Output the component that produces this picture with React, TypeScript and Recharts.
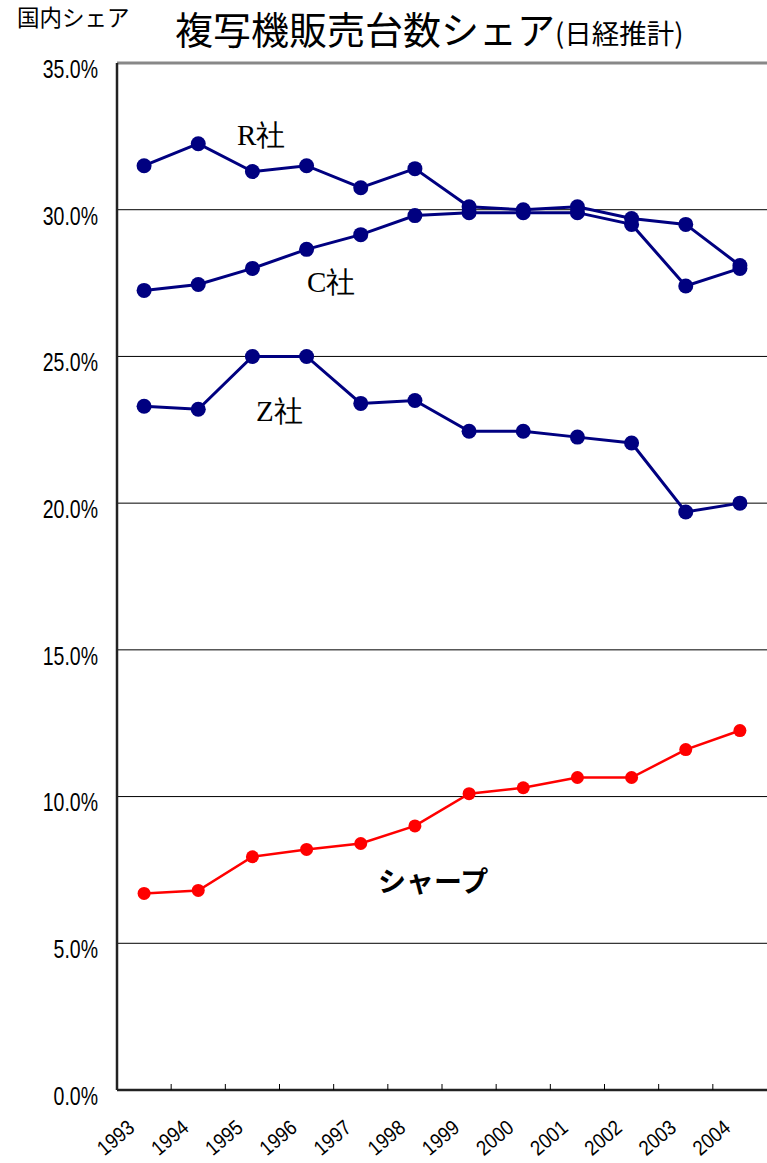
import * as React from 'react';
import { LineChart, Line, XAxis, YAxis, CartesianGrid, ReferenceLine } from 'recharts';

const years = [1993, 1994, 1995, 1996, 1997, 1998, 1999, 2000, 2001, 2002, 2003, 2004];
const rShare = [31.5, 32.25, 31.3, 31.5, 30.75, 31.4, 30.1, 30.0, 30.1, 29.7, 29.5, 28.1];
const cShare = [27.25, 27.45, 28.0, 28.65, 29.15, 29.8, 29.9, 29.9, 29.9, 29.5, 27.4, 28.0];
const zShare = [23.3, 23.2, 25.0, 25.0, 23.4, 23.5, 22.45, 22.45, 22.25, 22.05, 19.7, 20.0];
const sharpShare = [6.7, 6.8, 7.95, 8.2, 8.4, 9.0, 10.1, 10.3, 10.65, 10.65, 11.6, 12.25];
const yTicks = [0, 5, 10, 15, 20, 25, 30, 35];

// points sit mid-year, labels sit on the year boundaries
const data = years.map((yr, i) => ({
  x: yr + 0.5,
  r: rShare[i],
  c: cShare[i],
  z: zShare[i],
  sharp: sharpShare[i],
}));

const NAVY = '#000080';
const labelFont = "'Liberation Sans', Arial, sans-serif";
const jpFont = "'Noto Sans CJK JP', sans-serif";
const serifFont = "'Liberation Serif', 'DejaVu Serif', serif";

const YearTick = (props: any) => {
  const { x, y, payload } = props;
  const tx = x + 19;
  const ty = y + 40;
  return (
    <g>
      {payload.value !== 1993 && <line x1={x} y1={y} x2={x} y2={y - 6} stroke="#000" strokeWidth={1} />}
      <text
        transform={`translate(${tx}, ${ty}) rotate(-40) scale(0.88, 1)`}
        textAnchor="end"
        fontSize={21}
        fontFamily={labelFont}
        fill="#000"
      >
        {payload.value}
      </text>
    </g>
  );
};

const PctTick = (props: any) => {
  const { x, y, payload } = props;
  return (
    <text
      transform={`translate(${x - 19}, ${y + 6}) scale(0.78, 1)`}
      textAnchor="end"
      dy="0.355em"
      fontSize={25}
      fontFamily={labelFont}
      fill="#000"
    >
      {payload.value.toFixed(1) + '%'}
    </text>
  );
};

const navyDot = { r: 7.5, fill: NAVY, stroke: NAVY, strokeWidth: 0 };
const redDot = { r: 6.5, fill: '#ff0000', stroke: '#ff0000', strokeWidth: 0 };

export default function App() {
  return (
    <div style={{ position: 'absolute', left: 0, top: 0, width: 767, height: 1163, background: '#fff' }}>
      <LineChart width={767} height={1163} data={data} margin={{ top: 63, right: 0, bottom: 0, left: 0 }}>
        <CartesianGrid horizontal vertical={false} stroke="#000" strokeWidth={1} />
        <ReferenceLine y={35} stroke="#888" strokeWidth={3} />
        <XAxis
          type="number"
          dataKey="x"
          domain={[1993, 2005]}
          ticks={years}
          height={73}
          tickSize={0}
          tickMargin={0}
          tickLine={false}
          tick={<YearTick />}
          axisLine={{ stroke: '#222', strokeWidth: 2.5 }}
          interval={0}
        />
        <YAxis
          type="number"
          domain={[0, 35]}
          ticks={yTicks}
          width={117}
          tickLine={false}
          tickSize={0}
          tickMargin={0}
          tick={<PctTick />}
          axisLine={{ stroke: '#222', strokeWidth: 2.5 }}
        />
        <Line dataKey="r" stroke={NAVY} strokeWidth={3} dot={navyDot} isAnimationActive={false} />
        <Line dataKey="c" stroke={NAVY} strokeWidth={3} dot={navyDot} isAnimationActive={false} />
        <Line dataKey="z" stroke={NAVY} strokeWidth={3} dot={navyDot} isAnimationActive={false} />
        <Line dataKey="sharp" stroke="#ff0000" strokeWidth={2.5} dot={redDot} isAnimationActive={false} />
      </LineChart>

      <div style={{ position: 'absolute', left: 17, top: 0, fontSize: 22.5, fontFamily: jpFont, color: '#000', whiteSpace: 'nowrap' }}>
        国内シェア
      </div>
      <div style={{ position: 'absolute', left: 175, top: 0, fontFamily: jpFont, color: '#000', whiteSpace: 'nowrap' }}>
        <span style={{ fontSize: 38 }}>複写機販売台数シェア</span>
        <span style={{ fontSize: 27.5 }}>(日経推計)</span>
      </div>
      <div style={{ position: 'absolute', left: 237, top: 116, fontSize: 29, fontFamily: serifFont, color: '#000', whiteSpace: 'nowrap' }}>
        R社
      </div>
      <div style={{ position: 'absolute', left: 307, top: 263, fontSize: 29, fontFamily: serifFont, color: '#000', whiteSpace: 'nowrap' }}>
        C社
      </div>
      <div style={{ position: 'absolute', left: 256, top: 392, fontSize: 29, fontFamily: serifFont, color: '#000', whiteSpace: 'nowrap' }}>
        Z社
      </div>
      <div style={{ position: 'absolute', left: 378, top: 860, fontSize: 28, fontWeight: 'bold', fontFamily: jpFont, color: '#000', whiteSpace: 'nowrap' }}>
        シャープ
      </div>
    </div>
  );
}
